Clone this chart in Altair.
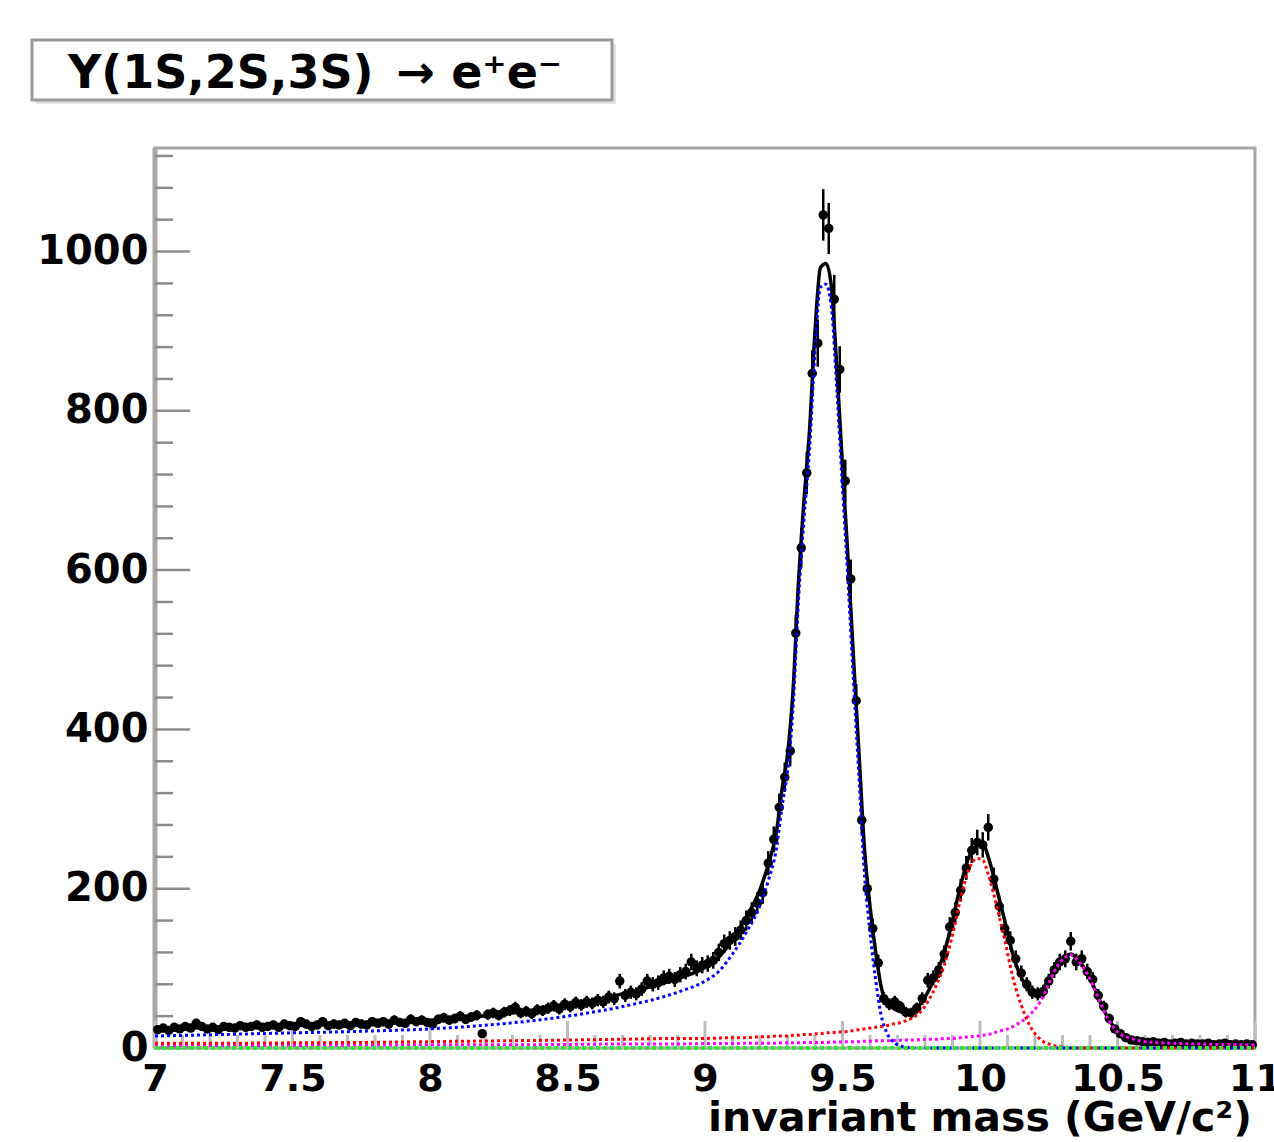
import altair as alt
import numpy as np
import pandas as pd

# Di-electron invariant-mass histogram: 200 bins of 20 MeV/c^2 from 7 to 11 GeV/c^2
MASS_LO, MASS_HI, N_BINS = 7.0, 11.0, 200

counts = [
    23, 25, 22, 26, 24, 27, 25, 31, 27, 24,          # 7.0 - 7.2
    26, 23, 27, 26, 25, 28, 26, 27, 29, 26,          # 7.2 - 7.4
    27, 29, 26, 30, 28, 27, 33, 30, 27, 29,          # 7.4 - 7.6
    33, 28, 30, 29, 31, 28, 32, 30, 29, 33,          # 7.6 - 7.8
    31, 33, 30, 35, 32, 31, 36, 33, 35, 32,          # 7.8 - 8.0
    30, 36, 38, 35, 37, 40, 36, 39, 41, 18,          # 8.0 - 8.2
    42, 44, 41, 45, 47, 51, 44, 46, 43, 48,          # 8.2 - 8.4
    47, 50, 53, 49, 55, 52, 57, 54, 58, 56,          # 8.4 - 8.6
    60, 58, 64, 62, 84, 66, 70, 68, 74, 84,          # 8.6 - 8.8
    80, 82, 88, 90, 86, 92, 96, 108, 100, 104,       # 8.8 - 9.0
    106, 110, 120, 131, 135, 140, 148, 160, 170, 182,  # 9.0 - 9.2
    195, 232, 262, 302, 340, 373, 521, 628, 722, 847,  # 9.2 - 9.4
    885, 1046, 1029, 940, 852, 712, 589, 436, 286, 200,  # 9.4 - 9.6
    150, 107, 62, 55, 58, 52, 45, 44, 50, 62,        # 9.6 - 9.8
    85, 88, 98, 118, 152, 170, 198, 226, 248, 258,   # 9.8 - 10.0
    255, 277, 212, 178, 150, 135, 112, 94, 80, 70,   # 10.0 - 10.2
    68, 71, 84, 98, 108, 112, 134, 108, 112, 96,     # 10.2 - 10.4
    86, 66, 52, 37, 24, 18, 13, 10, 9, 8,            # 10.4 - 10.6
    7, 8, 6, 7, 5, 6, 7, 5, 6, 5,                    # 10.6 - 10.8
    5, 6, 4, 5, 6, 4, 5, 4, 5, 4,                    # 10.8 - 11.0
]

# Fit result sampled along the mass axis: total and the three Upsilon states
fit_mass = [
    7.0, 7.25, 7.5, 7.75, 8.0, 8.25, 8.5, 8.7, 8.9,
    9.0, 9.05, 9.1, 9.15, 9.2, 9.23, 9.26, 9.28,
    9.30, 9.32, 9.34, 9.36, 9.38, 9.40, 9.42, 9.44, 9.46, 9.48, 9.50,
    9.52, 9.54, 9.56, 9.58, 9.60, 9.62, 9.64, 9.66, 9.68, 9.70, 9.72,
    9.75, 9.78, 9.81, 9.84, 9.87, 9.90, 9.93, 9.96, 9.99,
    10.01, 10.03, 10.05, 10.07, 10.09, 10.11, 10.13, 10.15, 10.17, 10.19,
    10.21, 10.23, 10.25, 10.27, 10.29, 10.31, 10.33, 10.35, 10.37, 10.39,
    10.41, 10.43, 10.45, 10.47,
    10.50, 10.55, 10.60, 10.70, 10.80, 11.0,
]
fit_total = [
    24, 26, 28, 31, 35, 42, 54, 68, 87,
    101, 114, 136, 164, 199, 230, 272, 325,
    368, 448, 585, 688, 775, 900, 980, 985, 955, 850, 730,
    615, 490, 370, 250, 178, 122, 78, 57, 51, 47, 45,
    46, 54, 70, 92, 120, 160, 205, 240, 254,
    256, 240, 215, 187, 160, 130, 106, 89, 76, 70,
    70, 75, 86, 99, 109, 115, 118, 113, 105, 94,
    80, 64, 48, 35,
    21, 12, 8, 6, 5, 4,
]
fit_1s = [
    15, 17, 19, 21, 24, 30, 40, 52, 70,
    84, 96, 118, 145, 179, 210, 251, 303,
    347, 426, 562, 664, 751, 875, 955, 959, 929, 823, 703,
    586, 460, 339, 218, 145, 87, 42, 20, 9, 4, 1.5,
    0.5, 0, 0, 0, 0, 0, 0, 0, 0,
    0, 0, 0, 0, 0, 0, 0, 0, 0, 0,
    0, 0, 0, 0, 0, 0, 0, 0, 0, 0,
    0, 0, 0, 0,
    0, 0, 0, 0, 0, 0,
]
fit_2s = [
    6, 6, 6.5, 7, 8, 9, 10, 11, 12,
    12, 12.5, 13, 13, 14, 14, 15, 15,
    15, 16, 16, 17, 17, 18, 18, 19, 19, 20, 20,
    21, 22, 23, 24, 25, 26, 27, 28, 30, 31, 33,
    37, 44, 58, 78, 104, 142, 188, 225, 238,
    236, 218, 193, 165, 136, 103, 75, 54, 36, 23,
    14, 8, 5, 3, 2, 1, 0.5, 0, 0, 0,
    0, 0, 0, 0,
    0, 0, 0, 0, 0, 0,
]
fit_3s = [
    3, 3, 3, 3.5, 4, 4, 4.5, 5, 5,
    5.5, 5.5, 5.5, 6, 6, 6, 6, 6.5,
    6.5, 6.5, 6.5, 7, 7, 7, 7, 7, 7.5, 7.5, 7.5,
    8, 8, 8, 8.5, 8.5, 9, 9, 9, 9.5, 9.5, 10,
    10, 10.5, 11, 11, 12, 12, 13, 14, 15,
    16, 17, 19, 21, 23, 25, 29, 33, 38, 45,
    53, 65, 81, 96, 107, 114, 117, 112, 104, 93,
    79, 63, 47, 34,
    20, 12, 8, 6, 5, 4,
]
bkg_mass = [7.0, 11.0]
bkg_level = [0.0, 0.0]

# Axis divisions
x_major = [7.0, 7.5, 8.0, 8.5, 9.0, 9.5, 10.0, 10.5, 11.0]
x_minor = [7.1, 7.2, 7.3, 7.4, 7.6, 7.7, 7.8, 7.9, 8.1, 8.2, 8.3, 8.4,
           8.6, 8.7, 8.8, 8.9, 9.1, 9.2, 9.3, 9.4, 9.6, 9.7, 9.8, 9.9,
           10.1, 10.2, 10.3, 10.4, 10.6, 10.7, 10.8, 10.9]
y_major = [0, 200, 400, 600, 800, 1000]
y_minor = [40, 80, 120, 160, 240, 280, 320, 360, 440, 480, 520, 560,
           640, 680, 720, 760, 840, 880, 920, 960, 1040, 1080, 1120]
Y_MAX = 1130

TITLE = "Υ(1S,2S,3S)\u2002→ e⁺e⁻"
X_TITLE = "invariant mass (GeV/c²)"

FONT = "DejaVu Sans"
W, H = 1100, 900

# ---- tables -------------------------------------------------------------
bin_width = (MASS_HI - MASS_LO) / N_BINS
centers = MASS_LO + (np.arange(N_BINS) + 0.5) * bin_width
n = np.array(counts, dtype=float)
err = np.sqrt(n)
hist = pd.DataFrame({
    "mass": centers,
    "counts": n,
    "lo": n - err,
    "hi": n + err,
    "m_lo": centers - bin_width / 2,
    "m_hi": centers + bin_width / 2,
})
fit = pd.DataFrame({"mass": fit_mass, "total": fit_total,
                    "s1": fit_1s, "s2": fit_2s, "s3": fit_3s})
bkg = pd.DataFrame({"mass": bkg_mass, "level": bkg_level})
xt_major = pd.DataFrame({"m": x_major})
xt_minor = pd.DataFrame({"m": x_minor})
yt_major = pd.DataFrame({"v": y_major})
yt_minor = pd.DataFrame({"v": y_minor})
title_df = pd.DataFrame({"label": [TITLE]})
xtitle_df = pd.DataFrame({"label": [X_TITLE]})

# ---- shared scales and axes --------------------------------------------
xs = alt.Scale(domain=[MASS_LO, MASS_HI], nice=False, zero=False)
ys = alt.Scale(domain=[0, Y_MAX], nice=False)
x_axis = alt.Axis(values=x_major, format="~g", ticks=False, domain=False,
                  grid=False, labelFont=FONT, labelFontWeight="bold",
                  labelFontSize=38, labelColor="black", labelPadding=12,
                  labelFlush=False, labelOverlap=False)
y_axis = alt.Axis(values=y_major, format="d", ticks=False, domain=False,
                  grid=False, labelFont=FONT, labelFontWeight="bold",
                  labelFontSize=40, labelColor="black", labelPadding=7,
                  labelOverlap=False)


def X(field):
    return alt.X(field, type="quantitative", scale=xs, axis=x_axis, title=None)


def Y(field):
    return alt.Y(field, type="quantitative", scale=ys, axis=y_axis, title=None)


# ---- frame decorations ---------------------------------------------------
left_axis = alt.Chart(title_df).mark_rule(color="#a8a8a8", strokeWidth=5).encode(
    x=alt.value(0), y=alt.value(0), y2=alt.value(H))

y_ticks_major = alt.Chart(yt_major).mark_rule(color="#8c8c8c", strokeWidth=2.5).encode(
    y=Y("v"), x=alt.value(0), x2=alt.value(35))
y_ticks_minor = alt.Chart(yt_minor).mark_rule(color="#8c8c8c", strokeWidth=2.5).encode(
    y=Y("v"), x=alt.value(0), x2=alt.value(18))
x_ticks_major = alt.Chart(xt_major).mark_rule(color="#bdbdbd", strokeWidth=3).encode(
    x=X("m"), y=alt.value(H), y2=alt.value(H - 27))
x_ticks_minor = alt.Chart(xt_minor).mark_rule(color="#bdbdbd", strokeWidth=3).encode(
    x=X("m"), y=alt.value(H), y2=alt.value(H - 13))

# ---- data points with Poisson errors ------------------------------------
vbars = alt.Chart(hist).mark_rule(color="black", strokeWidth=2.5).encode(
    x=X("mass"), y=Y("lo"), y2="hi")
hbars = alt.Chart(hist).mark_rule(color="black", strokeWidth=2.5).encode(
    x=X("m_lo"), x2="m_hi", y=Y("counts"))
points = alt.Chart(hist).mark_point(filled=True, shape="circle", size=90,
                                    color="black", opacity=1).encode(
    x=X("mass"), y=Y("counts"))

# ---- fit curves ------------------------------------------------------------
total_line = alt.Chart(fit).mark_line(color="black", strokeWidth=3.5,
                                      interpolate="monotone").encode(
    x=X("mass"), y=Y("total"))


def component(field, color):
    return alt.Chart(fit).mark_line(color=color, strokeWidth=3, strokeDash=[3, 3],
                                    interpolate="monotone").encode(
        x=X("mass"), y=Y(field))


bkg_line = alt.Chart(bkg).mark_line(color="#33e633", strokeWidth=4,
                                    strokeDash=[4, 3]).encode(
    x=X("mass"), y=Y("level"))

# ---- title box and axis title --------------------------------------------
box_shadow = alt.Chart(title_df).mark_rect(fill="#e2e2e2").encode(
    x=alt.value(-119), x2=alt.value(461), y=alt.value(-104), y2=alt.value(-44))
box = alt.Chart(title_df).mark_rect(fill="white", stroke="#9a9a9a", strokeWidth=3).encode(
    x=alt.value(-123), x2=alt.value(457), y=alt.value(-108), y2=alt.value(-48))
box_text = alt.Chart(title_df).mark_text(font=FONT, fontWeight="bold", fontSize=46,
                                         color="black", align="center",
                                         baseline="alphabetic").encode(
    x=alt.value(160), y=alt.value(-60), text="label:N")
x_title = alt.Chart(xtitle_df).mark_text(font=FONT, fontWeight="bold", fontSize=41,
                                         color="black", align="right",
                                         baseline="alphabetic").encode(
    x=alt.value(1097), y=alt.value(983), text="label:N")

chart = alt.layer(
    left_axis, y_ticks_major, y_ticks_minor, x_ticks_major, x_ticks_minor,
    vbars, hbars, points, total_line,
    component("s3", "#ff00ff"),
    component("s2", "#ff0000"),
    component("s1", "#0000ff"),
    bkg_line,
    box_shadow, box, box_text, x_title,
).properties(
    width=W, height=H,
    autosize=alt.AutoSizeParams(type="none"),
    padding={"left": 155, "top": 148, "right": 19, "bottom": 94},
    background="white",
).configure_view(stroke="#a6a6a6", strokeWidth=3)

chart.save("out.html", embed_options={"renderer": "svg", "actions": False})
